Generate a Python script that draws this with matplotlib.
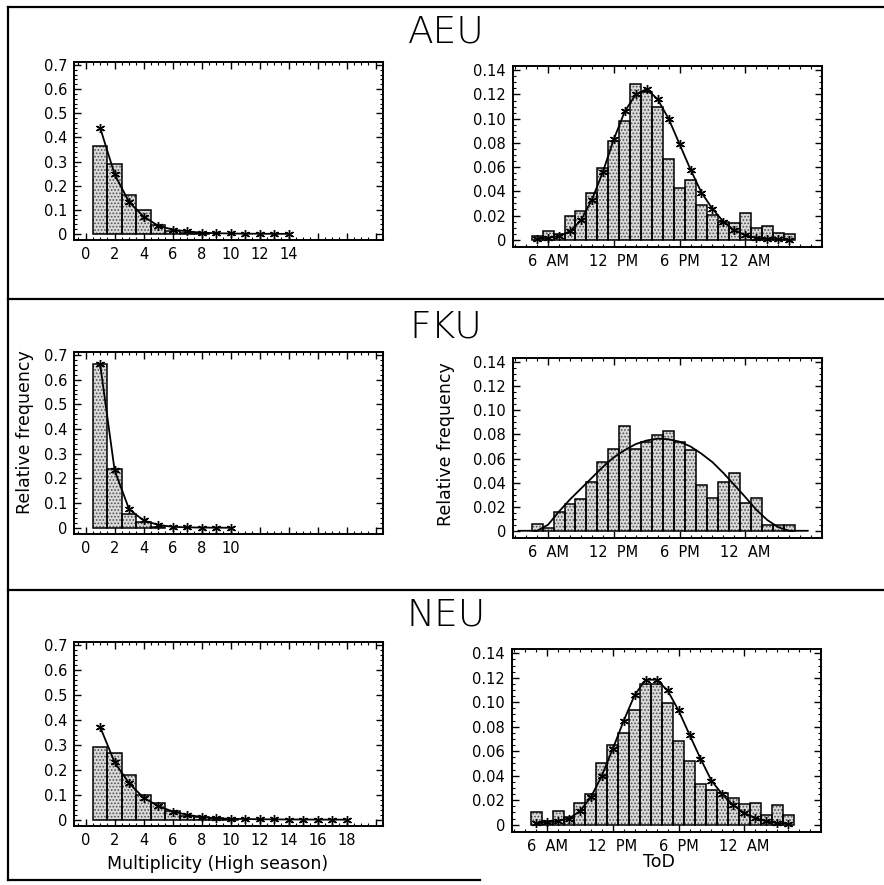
import numpy as np
import matplotlib.pyplot as plt
from matplotlib.lines import Line2D
from matplotlib.ticker import MultipleLocator, FixedLocator, FixedFormatter, FuncFormatter

plt.rcParams['font.family'] = ['DejaVu Sans']
plt.rcParams['hatch.linewidth'] = 0.8
plt.rcParams['axes.linewidth'] = 1.4

groups = ["AEU", "FKU", "NEU"]

# multiplicity (high season): histogram + fitted curve
mult_x_ticks = [0, 2, 4, 6, 8, 10, 12, 14, 16, 18, 20]
mult_last_label = {"AEU": 14, "FKU": 10, "NEU": 18}

aeu_mult_bars = [0.365, 0.288, 0.163, 0.099, 0.038, 0.012, 0.006, 0.003]
aeu_mult_fit = [0.44, 0.247, 0.132, 0.072, 0.034, 0.018, 0.011, 0.005, 0.003,
                0.002, 0.001, 0.001, 0.0005, 0.0005]
fku_mult_bars = [0.663, 0.238, 0.056, 0.022, 0.004]
fku_mult_fit = [0.663, 0.233, 0.075, 0.030, 0.012, 0.004, 0.002, 0.001, 0.0005, 0.0003]
neu_mult_bars = [0.29, 0.266, 0.18, 0.10, 0.068, 0.037, 0.017, 0.011, 0.007, 0.003]
neu_mult_fit = [0.372, 0.23, 0.146, 0.088, 0.055, 0.033, 0.02, 0.011, 0.006, 0.004,
                0.003, 0.002, 0.0015, 0.001, 0.001, 0.0005, 0.0005, 0.0003]

# time of day: hourly bins from 5 AM to 4 AM next day
tod_hours = list(range(5, 29))
tod_ticks = [6, 12, 18, 24]
tod_labels = ["6  AM", "12  PM", "6  PM", "12  AM"]

aeu_tod_bars = [0.0033, 0.0069, 0.0047, 0.020, 0.0236, 0.0388, 0.0596, 0.0815, 0.098,
                0.1287, 0.1218, 0.110, 0.0666, 0.0427, 0.049, 0.0289, 0.0205, 0.015,
                0.0136, 0.0219, 0.0094, 0.0116, 0.0052, 0.0047]
aeu_tod_fit = [0.001, 0.0015, 0.003, 0.007, 0.016, 0.033, 0.056, 0.083, 0.106, 0.120,
               0.1245, 0.116, 0.100, 0.079, 0.058, 0.039, 0.0255, 0.015, 0.0078,
               0.0038, 0.0015, 0.0007, 0.0003, 0.0001]
fku_tod_bars = [0.006, 0.0025, 0.0156, 0.0224, 0.0265, 0.0407, 0.057, 0.0683, 0.0872,
                0.0683, 0.0738, 0.0793, 0.0825, 0.0738, 0.0675, 0.038, 0.0273, 0.0402,
                0.0476, 0.023, 0.027, 0.0046, 0.0046, 0.0046]
fku_tod_fit_hours = [3.3] + tod_hours + [29.7]
fku_tod_fit = [0.0, 0.0, 0.005, 0.016, 0.026, 0.035, 0.044, 0.053, 0.061, 0.067, 0.072,
               0.075, 0.0765, 0.076, 0.074, 0.070, 0.064, 0.057, 0.048, 0.038, 0.028,
               0.0175, 0.009, 0.003, 0.0, 0.0]
neu_tod_bars = [0.0103, 0.003, 0.011, 0.0062, 0.018, 0.0253, 0.0503, 0.0647, 0.075,
                0.0939, 0.1151, 0.1151, 0.0996, 0.0683, 0.052, 0.0335, 0.028, 0.0258,
                0.0217, 0.0171, 0.0177, 0.0076, 0.0158, 0.0076]
neu_tod_fit = [0.001, 0.002, 0.003, 0.005, 0.011, 0.0225, 0.040, 0.062, 0.085, 0.106,
               0.1184, 0.1184, 0.1096, 0.0933, 0.0735, 0.054, 0.036, 0.0247, 0.0158,
               0.0095, 0.0054, 0.0027, 0.0013, 0.0008]

mult_bars = {"AEU": aeu_mult_bars, "FKU": fku_mult_bars, "NEU": neu_mult_bars}
mult_fit = {"AEU": aeu_mult_fit, "FKU": fku_mult_fit, "NEU": neu_mult_fit}
tod_bars = {"AEU": aeu_tod_bars, "FKU": fku_tod_bars, "NEU": neu_tod_bars}
tod_fit = {"AEU": (tod_hours, aeu_tod_fit), "FKU": (fku_tod_fit_hours, fku_tod_fit),
           "NEU": (tod_hours, neu_tod_fit)}

W, H = 884, 885
fig = plt.figure(figsize=(W / 100, H / 100), dpi=100)


def box(l, t, r, b):
    return [l / W, 1 - b / H, (r - l) / W, (b - t) / H]


left_boxes = {"AEU": (74, 62, 383, 240), "FKU": (74, 352, 383, 534), "NEU": (74, 642, 383, 826)}
right_boxes = {"AEU": (513, 66, 822, 247), "FKU": (513, 358, 822, 538), "NEU": (512, 649, 821, 832)}
title_y = {"AEU": 32, "FKU": 327, "NEU": 615}


def stipple_bars(ax, x, h):
    ax.bar(x, h, width=1, color='#dadada', edgecolor='#505050', hatch='.....', linewidth=0)
    ax.bar(x, h, width=1, fill=False, edgecolor='black', linewidth=1.1)


def style(ax):
    ax.tick_params(which='both', direction='in', top=True, right=True, labelsize=10.5,
                   pad=5)
    ax.tick_params(which='major', length=5, width=1)
    ax.tick_params(which='minor', length=2.5, width=0.8)


for g in groups:
    # multiplicity panel
    ax = fig.add_axes(box(*left_boxes[g]))
    xb = np.arange(1, len(mult_bars[g]) + 1)
    stipple_bars(ax, xb, mult_bars[g])
    xf = np.arange(1, len(mult_fit[g]) + 1)
    ax.plot(xf, mult_fit[g], color='black', lw=1.3, marker=(6, 2, 0), ms=6.5, mew=1)
    ax.set_xlim(-0.8, 20.5)
    ax.set_ylim(-0.025, 0.712)
    ax.xaxis.set_major_locator(FixedLocator(mult_x_ticks))
    ax.xaxis.set_major_formatter(FixedFormatter(
        [str(v) if v <= mult_last_label[g] else "" for v in mult_x_ticks]))
    ax.xaxis.set_minor_locator(MultipleLocator(0.5))
    ax.yaxis.set_major_locator(MultipleLocator(0.1))
    ax.yaxis.set_minor_locator(MultipleLocator(0.02))
    ax.yaxis.set_major_formatter(FuncFormatter(lambda v, p: "0" if abs(v) < 1e-9 else "%.1f" % v))
    style(ax)
    if g == "FKU":
        ax.set_ylabel("Relative frequency", fontsize=12.5)
        ax.yaxis.set_label_coords(-0.129, 0.56)
    if g == "NEU":
        ax.set_xlabel("Multiplicity (High season)", fontsize=12.5)
        ax.xaxis.set_label_coords(0.466, -0.155)

    # time of day panel
    ax = fig.add_axes(box(*right_boxes[g]))
    stipple_bars(ax, tod_hours, tod_bars[g])
    fx, fy = tod_fit[g]
    if g == "FKU":
        ax.plot(fx, fy, color='black', lw=1.3)
    else:
        ax.plot(fx, fy, color='black', lw=1.3, marker=(6, 2, 0), ms=6.5, mew=1)
    ax.set_xlim(2.8, 31)
    ax.set_ylim(-0.006, 0.1435)
    ax.xaxis.set_major_locator(FixedLocator(tod_ticks))
    ax.xaxis.set_major_formatter(FixedFormatter(tod_labels))
    ax.xaxis.set_minor_locator(MultipleLocator(1))
    ax.yaxis.set_major_locator(MultipleLocator(0.02))
    ax.yaxis.set_minor_locator(MultipleLocator(0.005))
    ax.yaxis.set_major_formatter(FuncFormatter(lambda v, p: "0" if abs(v) < 1e-9 else "%.2f" % v))
    style(ax)
    if g == "FKU":
        ax.set_ylabel("Relative frequency", fontsize=12.5)
        ax.yaxis.set_label_coords(-0.188, 0.52)
    if g == "NEU":
        ax.set_xlabel("ToD", fontsize=12.5)
        ax.xaxis.set_label_coords(0.476, -0.115)

    fig.text(446 / W, 1 - title_y[g] / H, g, fontsize=27, fontweight='light',
             ha='center', va='center')

# frame lines of the original figure
frame = [((8, 884), (7, 7)), ((8, 8), (7, 880)), ((8, 884), (299, 299)),
         ((8, 884), (590, 590)), ((8, 480), (880, 880))]
for xs, ys in frame:
    fig.add_artist(Line2D([x / W for x in xs], [1 - y / H for y in ys],
                          color='black', lw=1.6, transform=fig.transFigure))

fig.savefig("out.png", dpi=100)
